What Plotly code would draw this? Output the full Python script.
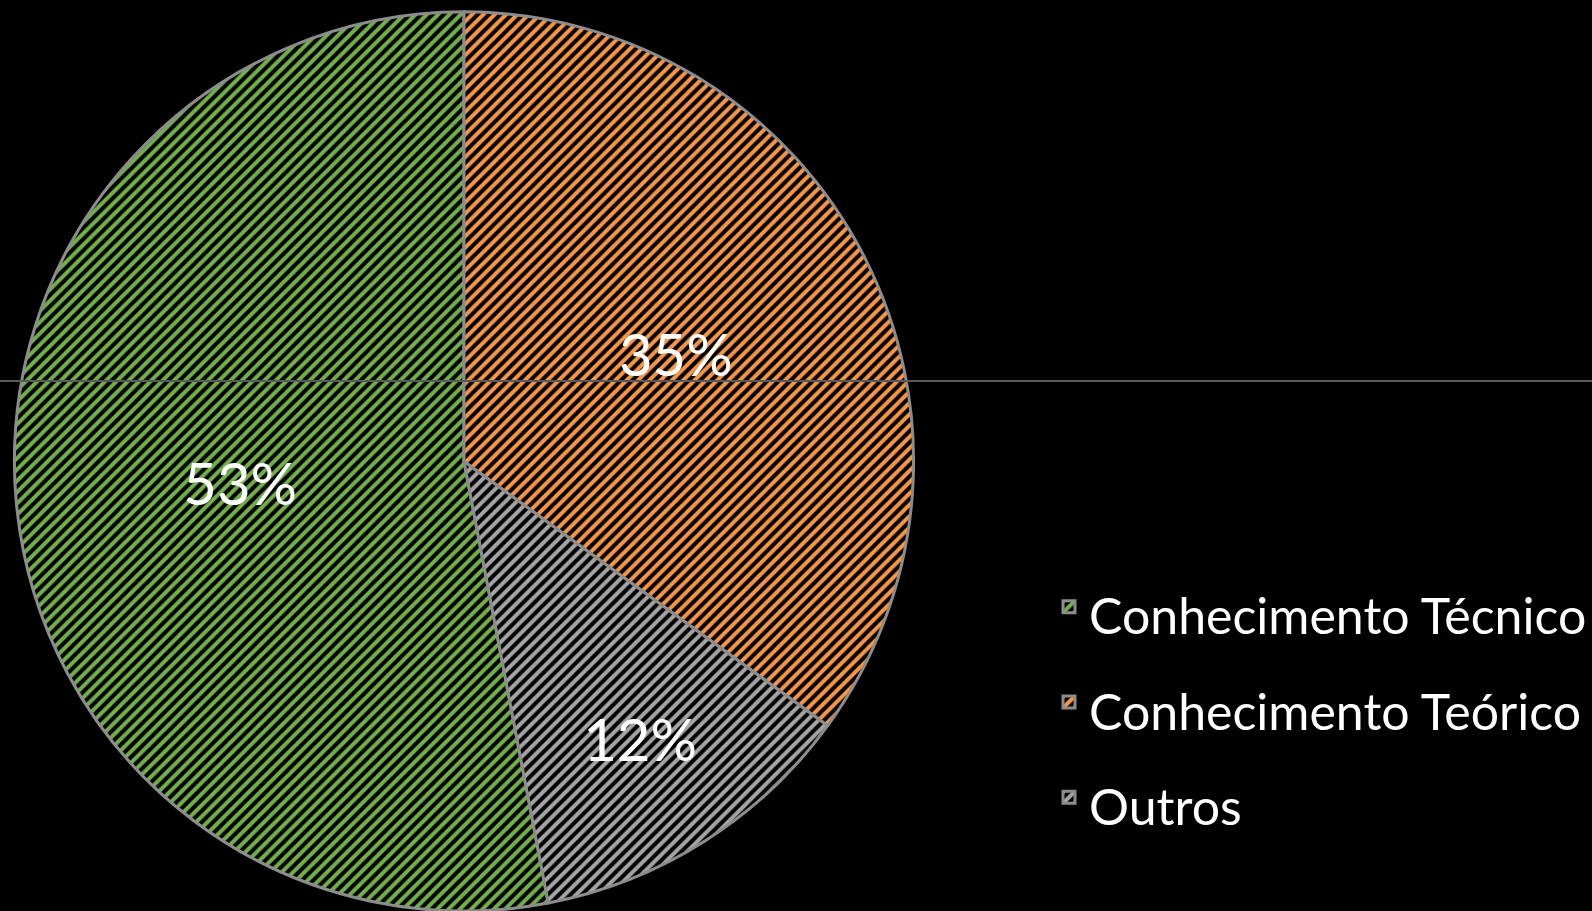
import plotly.graph_objects as go

labels = ["Conhecimento Técnico", "Conhecimento Teórico", "Outros"]
values = [53, 35, 12]
colors = ["#72B04A", "#F79646", "#A5A5A5"]

W, H = 1592, 911
legend_labels = ['<span style="font-size:50px">%s</span>' % l for l in labels]

fig = go.Figure(go.Pie(
    labels=legend_labels,
    values=values,
    sort=False,
    direction="clockwise",
    rotation=169.2,
    marker=dict(
        colors=colors,
        line=dict(color="#8C8C8C", width=3),
        pattern=dict(shape="/", fgcolor=colors, bgcolor="black", size=8, solidity=0.5, fillmode="replace"),
    ),
    texttemplate="%{percent:.0%}",
    textposition="inside",
    insidetextorientation="horizontal",
    textfont=dict(color="white", size=58, family="Lato"),
    domain=dict(x=[14 / W, 914 / W], y=[0, 0.987]),
    hoverinfo="label+percent",
))

fig.add_shape(type="line", xref="paper", yref="paper", x0=0, x1=1,
              y0=1 - 381 / H, y1=1 - 381 / H,
              line=dict(color="#595959", width=2), layer="above")

fig.update_layout(
    width=W, height=H,
    paper_bgcolor="black", plot_bgcolor="black",
    margin=dict(l=0, r=0, t=0, b=0),
    showlegend=True,
    legend=dict(
        x=1049 / W, y=1 - 554 / H, xanchor="left", yanchor="top",
        font=dict(family="Lato", size=71, color="white"),
        bgcolor="rgba(0,0,0,0)",
        itemclick=False,
    ),
    font=dict(family="Lato", color="white"),
)

fig.write_html("out.html", config={"displayModeBar": False},
               post_script="document.body.style.margin='0';document.body.style.background='black';")
